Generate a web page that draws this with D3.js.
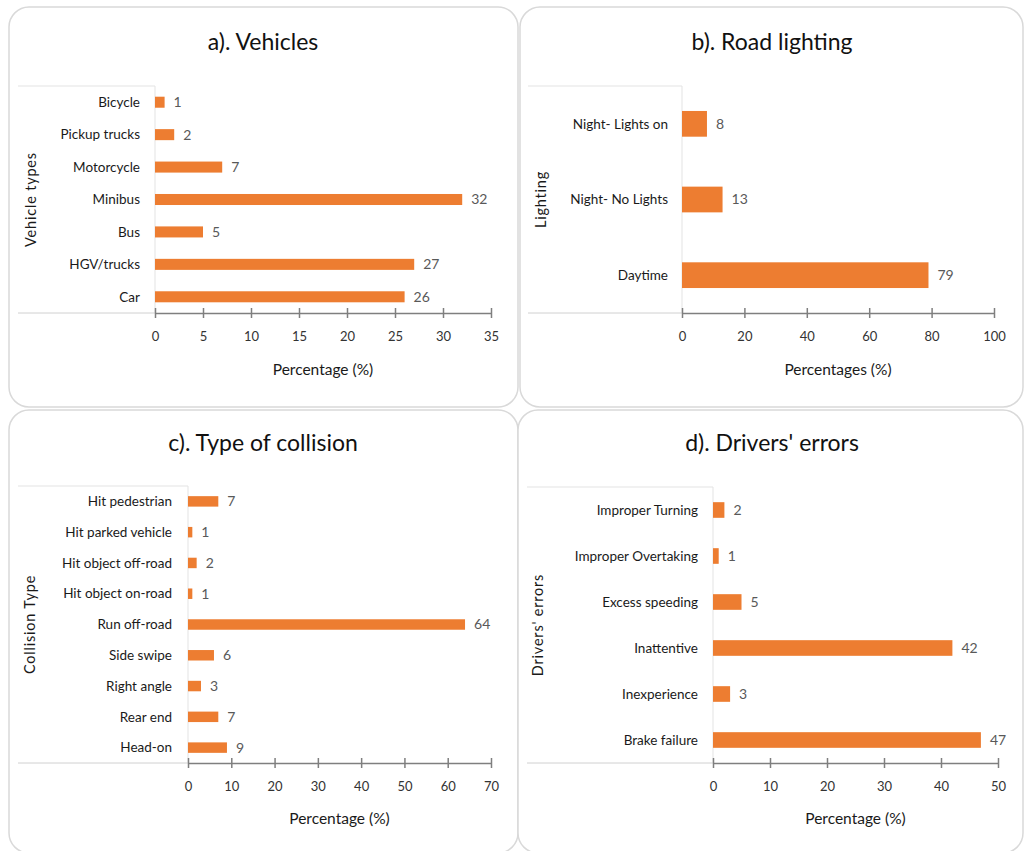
<!DOCTYPE html>
<html>
<head>
<meta charset="utf-8">
<script src="https://cdn.jsdelivr.net/npm/d3@7"></script>
<style>
  body { margin: 0; background: #fff; }
  svg { display: block; font-family: Lato, "Open Sans", sans-serif; }
</style>
</head>
<body>
<svg id="chart" width="1024" height="851"></svg>
<script>
// data, top to bottom as shown
const vehicleTypes = ["Bicycle", "Pickup trucks", "Motorcycle", "Minibus", "Bus", "HGV/trucks", "Car"];
const vehicleValues = [1, 2, 7, 32, 5, 27, 26];
const vehicleTicks = [0, 5, 10, 15, 20, 25, 30, 35];

const lightingTypes = ["Night- Lights on", "Night- No Lights", "Daytime"];
const lightingValues = [8, 13, 79];
const lightingTicks = [0, 20, 40, 60, 80, 100];

const collisionTypes = ["Hit pedestrian", "Hit parked vehicle", "Hit object off-road", "Hit object on-road",
  "Run off-road", "Side swipe", "Right angle", "Rear end", "Head-on"];
const collisionValues = [7, 1, 2, 1, 64, 6, 3, 7, 9];
const collisionTicks = [0, 10, 20, 30, 40, 50, 60, 70];

const errorTypes = ["Improper Turning", "Improper Overtaking", "Excess speeding", "Inattentive", "Inexperience", "Brake failure"];
const errorValues = [2, 1, 5, 42, 3, 47];
const errorTicks = [0, 10, 20, 30, 40, 50];

const svg = d3.select("#chart");
const orange = "#ED7D31";

// one panel per chart
function drawPanel(p) {
  const g = svg.append("g");

  // rounded frame
  g.append("rect")
    .attr("x", p.box[0]).attr("y", p.box[1])
    .attr("width", p.box[2]).attr("height", p.box[3])
    .attr("rx", 20).attr("ry", 20)
    .attr("fill", "#fff").attr("stroke", "#d9d9d9").attr("stroke-width", 1.5);

  g.append("text")
    .attr("x", p.titleX).attr("y", p.titleY)
    .attr("text-anchor", "middle")
    .attr("font-size", 23).attr("fill", "#111")
    .text(p.title);

  const x = d3.scaleLinear().domain([0, p.max]).range([p.x0, p.x1]);
  const y = d3.scaleBand().domain(p.cats).range([p.top, p.bottom]).paddingInner(0.66).paddingOuter(0.33);

  // plot-area frame lines
  g.append("line").attr("x1", p.left).attr("x2", p.x0).attr("y1", p.top).attr("y2", p.top)
    .attr("stroke", "#e3e3e3");
  g.append("line").attr("x1", p.left).attr("x2", p.x0).attr("y1", p.bottom).attr("y2", p.bottom)
    .attr("stroke", "#d0d0d0");
  g.append("line").attr("x1", p.x0).attr("x2", p.x0).attr("y1", p.top).attr("y2", p.bottom)
    .attr("stroke", "#e3e3e3");

  // bars
  g.selectAll(".bar").data(p.values).enter().append("rect")
    .attr("x", x(0))
    .attr("y", (d, i) => y(p.cats[i]))
    .attr("width", d => x(d) - x(0))
    .attr("height", y.bandwidth())
    .attr("fill", orange);

  // value labels
  g.selectAll(".val").data(p.values).enter().append("text")
    .attr("x", d => x(d) + 9)
    .attr("y", (d, i) => y(p.cats[i]) + y.bandwidth() / 2)
    .attr("dy", "0.35em")
    .attr("font-size", 14).attr("fill", "#595959")
    .text(d => d);

  // category labels
  g.selectAll(".cat").data(p.cats).enter().append("text")
    .attr("x", p.catX)
    .attr("y", d => y(d) + y.bandwidth() / 2)
    .attr("dy", "0.35em")
    .attr("text-anchor", "end")
    .attr("font-size", 13.5).attr("fill", "#1a1a1a")
    .text(d => d);

  // x axis
  const ax = g.append("g")
    .attr("transform", `translate(0,${p.bottom})`)
    .call(d3.axisBottom(x).tickValues(p.ticks).tickSize(5).tickSizeOuter(0).tickPadding(14));
  ax.select(".domain").attr("stroke", "#7f7f7f").attr("stroke-width", 1.5);
  ax.selectAll(".tick line").attr("stroke", "#7f7f7f").attr("stroke-width", 1.5).attr("y1", -5);
  ax.selectAll(".tick text").attr("font-size", 13).attr("fill", "#333")
    .attr("font-family", "Lato, sans-serif");

  g.append("text")
    .attr("x", (p.x0 + p.x1) / 2).attr("y", p.xTitleY)
    .attr("text-anchor", "middle")
    .attr("font-size", 15.5).attr("fill", "#1a1a1a")
    .text(p.xTitle);

  g.append("text")
    .attr("transform", `translate(${p.yTitleX},${(p.top + p.bottom) / 2}) rotate(-90)`)
    .attr("text-anchor", "middle")
    .attr("dy", "0.35em")
    .attr("font-size", 14.5).attr("letter-spacing", 0.8).attr("fill", "#1a1a1a")
    .text(p.yTitle);
}

drawPanel({
  box: [9, 7, 509, 400], title: "a). Vehicles", titleX: 263, titleY: 50,
  cats: vehicleTypes, values: vehicleValues, ticks: vehicleTicks, max: 35,
  x0: 155, x1: 491, top: 86, bottom: 313, left: 18, catX: 140,
  xTitle: "Percentage (%)", xTitleY: 375, yTitle: "Vehicle types", yTitleX: 31
});

drawPanel({
  box: [520, 7, 503, 400], title: "b). Road lighting", titleX: 772, titleY: 50,
  cats: lightingTypes, values: lightingValues, ticks: lightingTicks, max: 100,
  x0: 682, x1: 994, top: 86, bottom: 313, left: 528, catX: 668,
  xTitle: "Percentages (%)", xTitleY: 375, yTitle: "Lighting", yTitleX: 541
});

drawPanel({
  box: [9, 410, 509, 443], title: "c). Type of collision", titleX: 263, titleY: 451,
  cats: collisionTypes, values: collisionValues, ticks: collisionTicks, max: 70,
  x0: 188, x1: 491, top: 486, bottom: 763, left: 18, catX: 172,
  xTitle: "Percentage (%)", xTitleY: 824, yTitle: "Collision Type", yTitleX: 30
});

drawPanel({
  box: [518, 410, 505, 443], title: "d). Drivers' errors", titleX: 772, titleY: 451,
  cats: errorTypes, values: errorValues, ticks: errorTicks, max: 50,
  x0: 713, x1: 998, top: 487, bottom: 763, left: 527, catX: 698,
  xTitle: "Percentage (%)", xTitleY: 824, yTitle: "Drivers' errors", yTitleX: 538
});
</script>
</body>
</html>
